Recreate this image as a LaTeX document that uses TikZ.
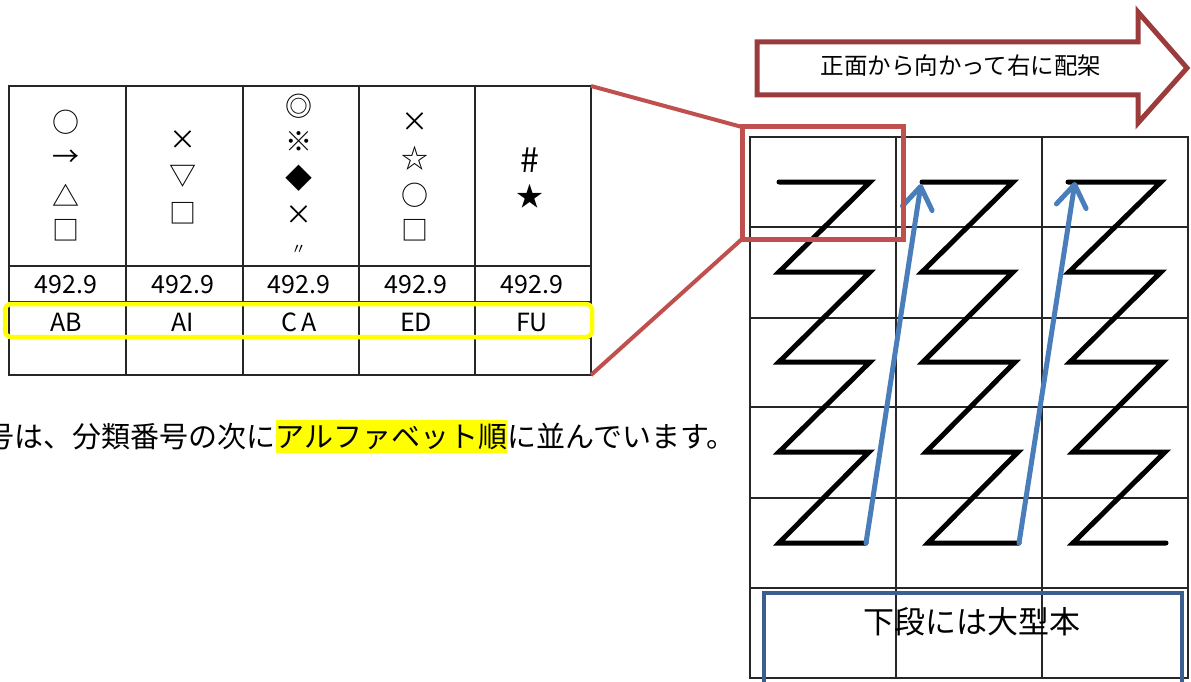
\documentclass[tikz,border=0pt]{standalone}
\usepackage{fontspec}
\newfontfamily\jp{Noto Sans CJK JP}
\usetikzlibrary{arrows.meta}
\definecolor{tblred}{HTML}{C0504D}
\definecolor{arrred}{HTML}{9B3B3B}
\definecolor{zblue}{HTML}{4A7EBB}
\definecolor{boxblue}{HTML}{3A5F8E}
\definecolor{hlyellow}{HTML}{FFFF00}
\begin{document}
\begin{tikzpicture}[x=1pt,y=-1pt,
  gridline/.style={draw=black!85,line width=1.7pt},
  sym/.style={font=\jp\fontsize{27}{27}\selectfont,inner sep=0pt},
  numtxt/.style={font=\jp\fontsize{25}{25}\selectfont,inner sep=0pt},
  zig/.style={draw=black,line width=5pt,line join=miter,line cap=round},
  uparrow/.style={draw=zblue,line width=5pt,line cap=round,-{Straight Barb[length=22pt,width=30pt,round]}},
  redline/.style={draw=tblred,line width=4pt},
  bodytxt/.style={font=\jp\fontsize{29}{29}\selectfont,inner sep=0pt,anchor=base west}
]
\useasboundingbox (0,0) rectangle (1191,682);

% ---------- left table ----------
\node[draw=black!85,line width=1.7pt,minimum width=582pt,minimum height=289pt,inner sep=0pt,outer sep=0pt] (tbl) at (300,230.5) {};
\foreach \x in {126,243,359,475} \draw[gridline] (\x,86) -- (\x,375);
\foreach \y in {266,302,338} \draw[gridline] (9,\y) -- (591,\y);

% symbols
\node[sym] (s11) at (66,122) {○};
\node[sym] (s12) at (66,158) {→};
\node[sym] (s13) at (66,195) {△};
\node[sym] (s14) at (66,230) {□};
\node[sym] (s21) at (182.5,140) {×};
\node[sym] (s22) at (182.5,176) {▽};
\node[sym] (s23) at (182.5,213) {□};
\node[sym] (s31) at (298.5,106) {◎};
\node[sym] (s32) at (298.5,142) {※};
\node[sym] (s33) at (298.5,178) {◆};
\node[sym] (s34) at (298.5,215) {×};
\node[sym,font=\jp\fontsize{15}{15}\selectfont] (s35) at (298.5,250) {〃};
\node[sym] (s41) at (414.5,122) {×};
\node[sym] (s42) at (414.5,158) {☆};
\node[sym] (s43) at (414.5,195) {○};
\node[sym] (s44) at (414.5,230) {□};
\node[sym,font=\jp\fontsize{34}{34}\selectfont] (s51) at (530,160) {\#};
\node[sym] (s52) at (530,196) {★};

% numbers and letters
\foreach \x/\n in {66/n1,183/n2,299/n3,416/n4,532/n5}
  \node[numtxt] (\n) at (\x,285) {492.9};
\node[numtxt] (l1) at (66,322) {AB};
\node[numtxt] (l2) at (183,322) {AI};
\node[numtxt] (l3) at (299,322) {C\,A};
\node[numtxt] (l4) at (416,322) {ED};
\node[numtxt] (l5) at (532,322) {FU};

% yellow rounded box
\node[draw=hlyellow,line width=4.5pt,rounded corners=6pt,minimum width=587pt,minimum height=33pt,inner sep=0pt] (ybox) at (298.5,320.5) {};

% ---------- bottom sentence ----------
\node[bodytxt] (t1) at (-15,447) {号は、分類番号の次に};
\node[bodytxt,fill=hlyellow,inner ysep=4pt] (t2) at (t1.base east) {アルファベット順};
\node[bodytxt] (t3) at (t2.base east) {に並んでいます。};

% ---------- right grid ----------
\draw[gridline] (750,137) rectangle (1188,678);
\foreach \x in {896,1042} \draw[gridline] (\x,137) -- (\x,678);
\foreach \y in {227,318,407,498,588} \draw[gridline] (750,\y) -- (1188,\y);

% zigzags
\draw[zig] (779,182) -- (870,182) -- (779,272) -- (870,272) -- (779,362) -- (870,362) -- (779,452) -- (869,452) -- (779,543) -- (866,543);
\draw[zig] (922,182) -- (1013,182) -- (922,272) -- (1013,272) -- (923,362) -- (1015,362) -- (926,452) -- (1018,452) -- (928,543) -- (1019,543);
\draw[zig] (1068,182) -- (1161,182) -- (1069,272) -- (1161,272) -- (1070,362) -- (1163,362) -- (1073,452) -- (1165,452) -- (1073,543) -- (1166,543);

% blue arrows
\coordinate (a1s) at (866,543);
\coordinate (a1e) at (921,184);
\coordinate (a2s) at (1019,543);
\coordinate (a2e) at (1075,182);
\draw[uparrow] (a1s) -- (a1e);
\draw[uparrow] (a2s) -- (a2e);

% red selection box and connectors
\node[draw=tblred,line width=5pt,minimum width=161pt,minimum height=112pt,inner sep=0pt,outer sep=0pt] (sel) at (822.5,183) {};
\draw[redline] (tbl.north east) -- (sel.north west);
\draw[redline] (tbl.south east) -- (sel.south west);

% top block arrow
\draw[arrred,line width=5pt,fill=white,line join=miter] (757,42) -- (1138,42) -- (1138,12) -- (1187,68) -- (1138,123) -- (1138,95) -- (757,95) -- cycle;
\node[font=\jp\fontsize{23.5}{23.5}\selectfont,inner sep=0pt] (atxt) at (961,66) {正面から向かって右に配架};

% bottom blue box
\draw[boxblue,line width=4pt] (764,700) -- (764,593) -- (1182,593) -- (1182,700);
\node[font=\jp\fontsize{31}{31}\selectfont,inner sep=0pt] (btxt) at (972,622) {下段には大型本};
\end{tikzpicture}
\end{document}
